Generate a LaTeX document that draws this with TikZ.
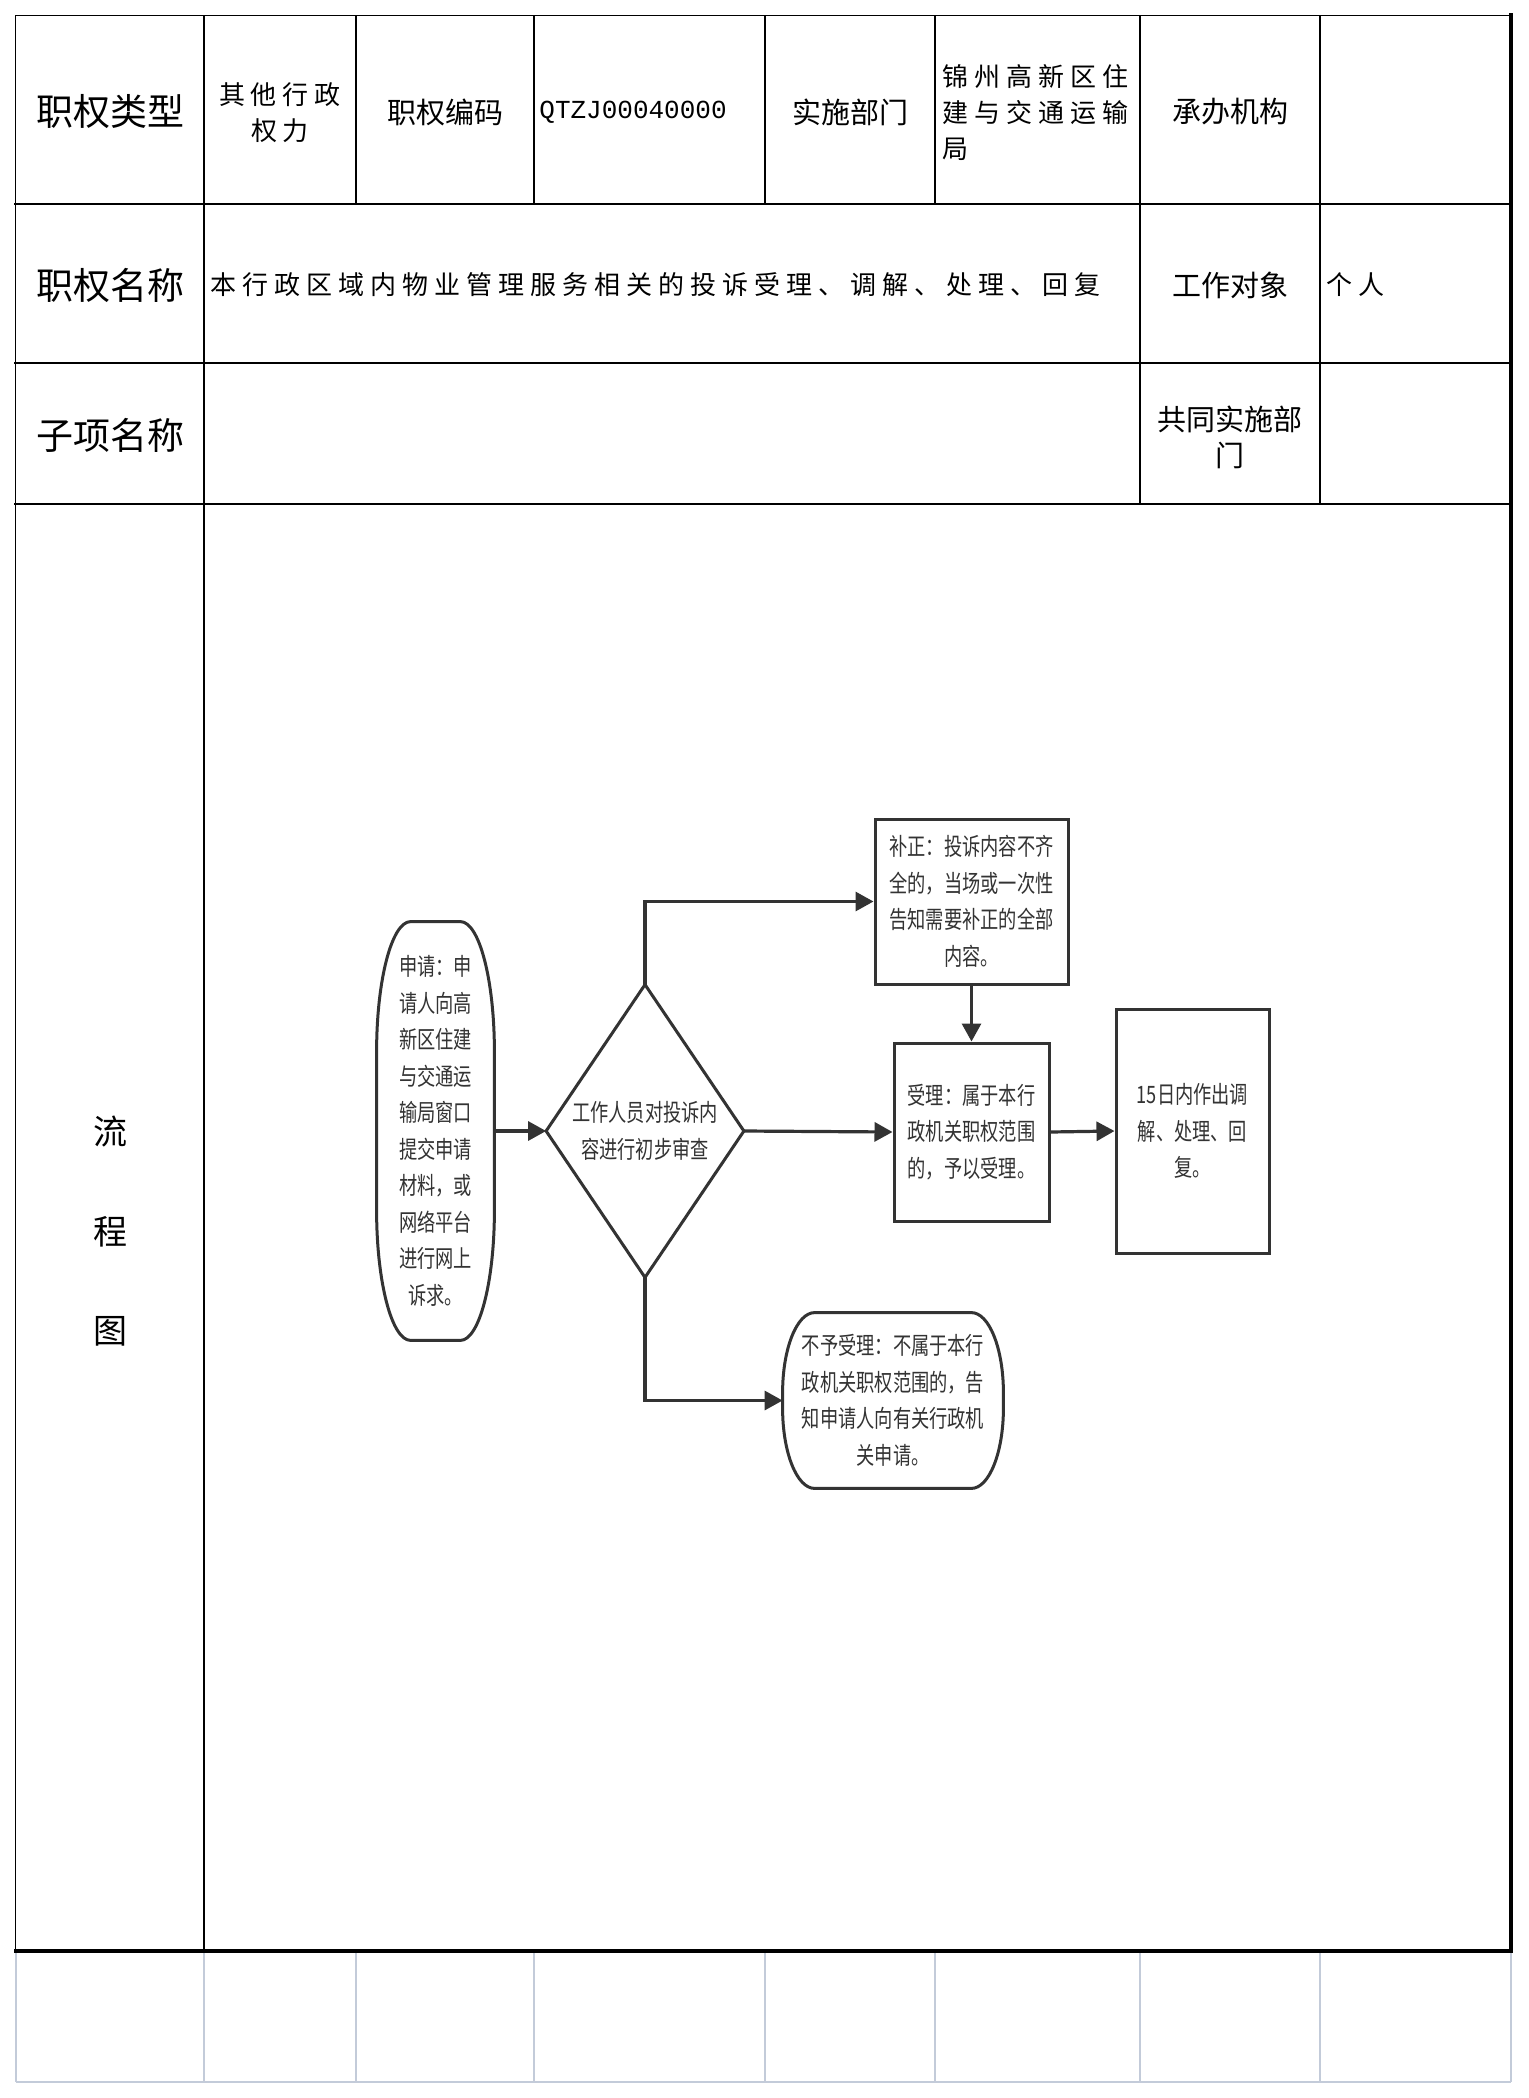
\documentclass[tikz,border=0pt]{standalone}
\usepackage{fontspec}
\setmainfont{Noto Sans CJK SC}
\newfontfamily\flowfont{Noto Sans CJK SC}[FakeStretch=0.76]
\setmonofont{Liberation Mono}
\usetikzlibrary{arrows.meta}
\definecolor{cdark}{HTML}{333333}
\definecolor{cgray}{HTML}{C3CBD9}
\newlength\mylsp
\setlength\mylsp{3pt}
\def\lsp#1{\lspaux#1\relax}
\def\lspaux#1#2{#1\ifx#2\relax\else\hspace{\mylsp}\expandafter\lspaux\expandafter#2\fi}
\newcommand\termshape[3]{%
  \draw[shapeline] ([xshift=#2]#1.north west) -- ([xshift=-#2]#1.north east)
    arc[start angle=90,end angle=0,x radius=#2,y radius=#3]
    -- ([yshift=#3]#1.south east)
    arc[start angle=0,end angle=-90,x radius=#2,y radius=#3]
    -- ([xshift=#2]#1.south west)
    arc[start angle=270,end angle=180,x radius=#2,y radius=#3]
    -- ([yshift=-#3]#1.north west)
    arc[start angle=180,end angle=90,x radius=#2,y radius=#3] -- cycle;}
\begin{document}
\begin{tikzpicture}[x=0.5pt,y=-0.5pt,
  thinline/.style={line width=0.75pt, line cap=rect, black},
  rowline/.style={line width=1.25pt, line cap=rect, black},
  thickline/.style={line width=2pt, line cap=rect, black},
  grayline/.style={line width=0.8pt, cgray},
  biglabel/.style={font=\fontsize{18.5pt}{22pt}\selectfont, inner sep=0pt},
  label/.style={font=\fontsize{14.5pt}{18pt}\selectfont, inner sep=0pt, align=center},
  spaced/.style={font=\fontsize{13pt}{18pt}\selectfont, inner sep=0pt},
  codetext/.style={font=\ttfamily\fontsize{13pt}{16pt}\selectfont, inner sep=0pt},
  flowtext/.style={font=\flowfont\fontsize{12pt}{18.25pt}\selectfont, text=cdark, align=center, inner sep=0pt},
  flowbox/.style={flowtext, draw=cdark, line width=1.5pt},
  shapeline/.style={draw=cdark, line width=1.5pt},
  conn/.style={draw=cdark, line width=1.6pt, -{Triangle[length=9pt,width=9.5pt]}}
]
\useasboundingbox (0,0) rectangle (1528,2098);
\fill[white] (0,0) rectangle (1528,2098);

% ---- gray lower section ----
\foreach \xx in {15.7,204,356,534,765,935,1140,1320,1511}
  \draw[grayline] (\xx,1951) -- (\xx,2082);
\draw[grayline, line width=1pt] (15.7,2082) -- (1511,2082);

% ---- table lines ----
\draw[thinline] (15.7,15.3) -- (1511,15.3);
\draw[thinline] (15.7,15.3) -- (15.7,1951);
\draw[thinline] (204,15.3) -- (204,1951);
\foreach \xx in {356,534,765,935}
  \draw[thinline] (\xx,15.3) -- (\xx,204);
\foreach \xx in {1140,1320}
  \draw[thinline] (\xx,15.3) -- (\xx,504);
\foreach \yy in {204,363,504}
  \draw[rowline] (15.7,\yy) -- (1511,\yy);
\draw[thickline] (1511,15.3) -- (1511,1951);
\draw[thickline] (15.7,1951) -- (1511,1951);

% ---- table texts ----
\node[biglabel] (t11) at (110,112) {职权类型};
\node[spaced, align=center] (t12) at (280,112.5) {\lsp{其他行政}\\\lsp{权力}};
\node[label] (t13) at (445,112) {职权编码};
\node[codetext, anchor=west] (t14) at (539,112) {QTZJ00040000};
\node[label] (t15) at (850,112) {实施部门};
\node[spaced, align=left, anchor=west] (t16) at (942,112.5) {\lsp{锦州高新区住}\\\lsp{建与交通运输}\\\lsp{局}};
\node[label] (t17) at (1230,112) {承办机构};

\node[biglabel] (t21) at (110,285) {职权名称};
\node[spaced, anchor=west] (t22) at (210,285) {\lsp{本行政区域内物业管理服务相关的投诉受理、调解、处理、回复}};
\node[label] (t23) at (1230,285) {工作对象};
\node[spaced, anchor=west] (t24) at (1326,285) {\lsp{个人}};

\node[biglabel] (t31) at (110,435) {子项名称};
\node[label] (t32) at (1230,437) {共同实施部\\门};

\node[font=\fontsize{17pt}{49.75pt}\selectfont, align=center, inner sep=0pt] (t41) at (110,1231.5) {流\\程\\图};

% ---- flowchart ----
\node[flowtext, minimum width=58.5pt, minimum height=209pt] (s1) at (435.5,1131)
  {申请：申\\请人向高\\新区住建\\与交通运\\输局窗口\\提交申请\\材料，或\\网络平台\\进行网上\\诉求。};
\termshape{s1}{17pt}{65pt}

\node[flowtext, minimum width=98.5pt, minimum height=146pt] (d) at (645,1131)
  {工作人员对投诉内\\容进行初步审查};
\draw[shapeline] (d.north) -- (d.east) -- (d.south) -- (d.west) -- cycle;

\node[flowbox, minimum width=96.5pt, minimum height=82.5pt] (b1) at (971.5,901.5)
  {补正：投诉内容不齐\\全的，当场或一次性\\告知需要补正的全部\\内容。};
\node[flowbox, minimum width=77.5pt, minimum height=89pt] (b2) at (971.5,1132)
  {受理：属于本行\\政机关职权范围\\的，予以受理。};
\node[flowbox, minimum width=76.5pt, minimum height=122pt] (b3) at (1192.5,1131)
  {15日内作出调\\解、处理、回\\复。};

\node[flowtext, minimum width=110pt, minimum height=87.5pt] (s2) at (893,1400.5)
  {不予受理：不属于本行\\政机关职权范围的，告\\知申请人向有关行政机\\关申请。};
\termshape{s2}{16pt}{40pt}

\draw[conn] (s1.east) -- (d.west);
\draw[conn] (d.north) |- (b1.west);
\draw[conn] (b1.south) -- (b2.north);
\draw[conn] (d.east) -- (b2.west);
\draw[conn] (b2.east) -- (b3.west);
\draw[conn] (d.south) |- (s2.west);
\end{tikzpicture}
\end{document}
